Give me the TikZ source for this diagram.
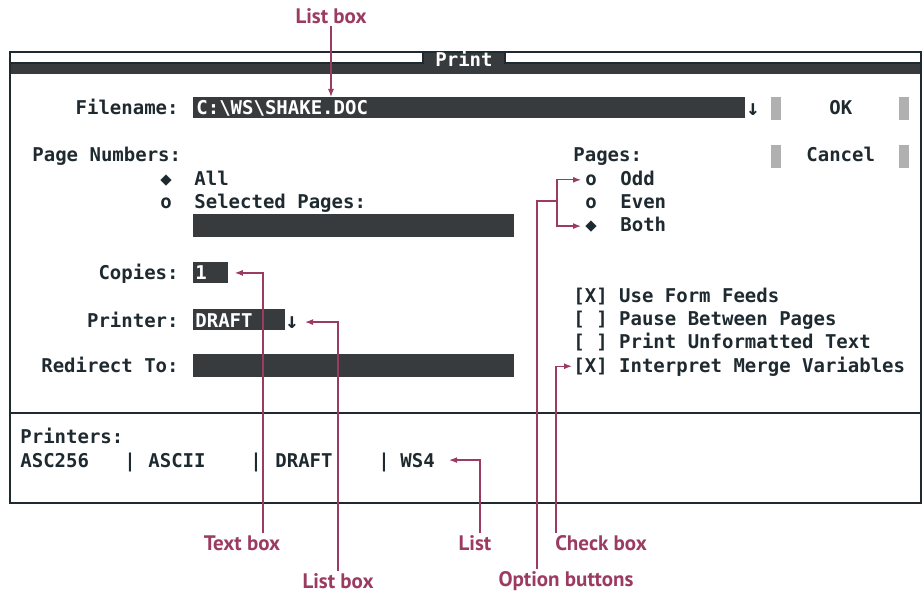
\documentclass[tikz,border=0pt]{standalone}
\usepackage{fontspec}
\setmonofont{DejaVu Sans Mono}
\newfontfamily\labelfont{PT Sans}
\usetikzlibrary{arrows.meta}

\tikzset{
 scr/.style={font=\ttfamily\bfseries\fontsize{9.5}{10}\selectfont, text=screenLAT, inner sep=0pt, anchor=base west},
 field/.style={fill=darkLAT, inner sep=0pt, anchor=north west},
 lbl/.style={font=\labelfont\bfseries\fontsize{10.5}{12}\selectfont, text=magentaLAT, inner sep=1pt},
 callout/.style={magentaLAT, line width=0.6pt, -{Latex[length=4pt,width=3pt]}},
}

\begin{document}
\begin{tikzpicture}[x=0.5pt,y=-0.5pt]

\definecolor{darkLAT}{HTML}{383b3e}
\definecolor{screenLAT}{HTML}{1f2a30}
\definecolor{magentaLAT}{HTML}{9c3b62}
\definecolor{shadeLAT}{HTML}{b0b0b0}

\useasboundingbox (0,0) rectangle (924,593);

% dialog frame and title bar
\fill[darkLAT] (10,52) rectangle (921,74);
\draw[screenLAT, fill=white, line width=0.6pt] (10,52) rectangle (423,63);
\draw[screenLAT, fill=white, line width=0.6pt] (505,52) rectangle (921,63);
\draw[screenLAT, line width=0.8pt] (10,52) rectangle (921,503);
\draw[screenLAT, line width=0.8pt] (10,413) -- (921,413);
\node[scr, text=white, anchor=base] (title) at (464,67) {Print};

% fields
\node[field, minimum width=276pt, minimum height=10.5pt] (filefield) at (193,97) {};
\node[field, minimum width=160.5pt, minimum height=11.5pt] (selfield) at (193,214) {};
\node[field, minimum width=17.5pt, minimum height=10.5pt] (copyfield) at (193,262) {};
\node[field, minimum width=46pt, minimum height=10.5pt] (prtfield) at (193,309) {};
\node[field, minimum width=160.5pt, minimum height=11.5pt] (redirfield) at (193,354) {};

% command buttons
\foreach \x in {771,899} {
 \foreach \y in {97,145} {
  \fill[shadeLAT] (\x,\y) rectangle ++(10,23);
 }
}

% left column
\node[scr, anchor=base east] (fname) at (179,115) {Filename:};
\node[scr, text=white] (fpath) at (196,115) {C:\textbackslash WS\textbackslash SHAKE.DOC};
\node[scr, font=\ttfamily\bfseries\fontsize{11}{12}\selectfont] (farrow) at (746,116) {↓};
\node[scr] (ok) at (829,115) {OK};

\node[scr] (pgnum) at (32,162) {Page Numbers:};
\node[scr] (allmark) at (160,185) {◆};
\node[scr] (all) at (194,185) {All};
\node[scr] (selmark) at (160,208) {o};
\node[scr] (sel) at (194,208) {Selected Pages:};

\node[scr, anchor=base east] (copies) at (179,279) {Copies:};
\node[scr, text=white] (copyval) at (195,279) {1};
\node[scr, anchor=base east] (printer) at (179,327) {Printer:};
\node[scr, text=white] (prtval) at (195,327) {DRAFT};
\node[scr, font=\ttfamily\bfseries\fontsize{11}{12}\selectfont] (prtarrow) at (285,328) {↓};
\node[scr, anchor=base east] (redir) at (179,372) {Redirect To:};

% right column
\node[scr] (pages) at (573,162) {Pages:};
\node[scr] (cancel) at (806,162) {Cancel};
\node[scr] (oddmark) at (585,185) {o};
\node[scr] (odd) at (620,185) {Odd};
\node[scr] (evenmark) at (585,208) {o};
\node[scr] (even) at (620,208) {Even};
\node[scr] (bothmark) at (585,231) {◆};
\node[scr] (both) at (620,231) {Both};

\foreach \i/\y/\t in {1/302/{[X] Use Form Feeds}, 2/325/{[ ] Pause Between Pages},
 3/348/{[ ] Print Unformatted Text}, 4/372/{[X] Interpret Merge Variables}} {
 \node[scr] (chk\i) at (573,\y) {\t};
}

% printers list
\node[scr] (printers) at (20,443) {Printers:};
\node[scr] (asc256) at (20,467) {ASC256};
\node[scr] (sep1) at (124,467) {|};
\node[scr] (ascii) at (148,467) {ASCII};
\node[scr] (sep2) at (250,467) {|};
\node[scr] (draft) at (275,467) {DRAFT};
\node[scr] (sep3) at (378,467) {|};
\node[scr] (ws4) at (400,467) {WS4};

% callouts
\node[lbl] (lbtop) at (331,16) {List box};
\node[lbl] (textlbl) at (242,543) {Text box};
\node[lbl] (listlbl) at (475,543) {List};
\node[lbl] (chklbl) at (601,543) {Check box};
\node[lbl] (lblbot) at (338,581) {List box};
\node[lbl] (optlbl) at (566,581) {Option buttons};

\draw[callout] (lbtop.south) -- (lbtop.south |- filefield.north);
\draw[callout] ([xshift=10.5pt]textlbl.north) |- ([xshift=3pt]copyfield.east);
\draw[callout] (lblbot.north) |- ([xshift=3pt]prtarrow.east);
\draw[callout] ([xshift=2.5pt]listlbl.north) |- ([xshift=7pt]ws4.east);
\draw[callout] ([xshift=-22.5pt]chklbl.north) |- ([xshift=-0.5pt]chk4.west);

\coordinate (brk) at (557,201);
\draw[callout, -] ([xshift=-14.5pt]optlbl.north) |- (brk);
\draw[callout] (brk) |- ([xshift=-2pt]oddmark.west);
\draw[callout] (brk) |- ([xshift=-2pt]bothmark.west);

\end{tikzpicture}
\end{document}
